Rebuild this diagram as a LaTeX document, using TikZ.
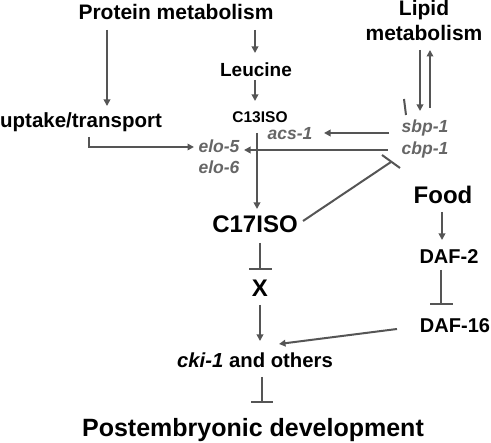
\documentclass[tikz,border=0pt]{standalone}
\usepackage{fontspec}
\setmainfont{Liberation Sans}
\usetikzlibrary{arrows.meta}
\definecolor{lnc}{HTML}{555555}
\definecolor{gene}{HTML}{666666}
\tikzset{
  lbl/.style={inner sep=0pt, anchor=base, font=\bfseries},
  gn/.style={lbl, text=gene, font=\bfseries\itshape\fontsize{17.5}{20}\selectfont},
  arr/.style={draw=lnc, line width=2pt, -{Triangle[length=6.5pt,width=6.5pt]}},
  inh/.style={draw=lnc, line width=2pt},
  ln/.style={draw=lnc, line width=2pt}
}
\begin{document}
\begin{tikzpicture}[x=1pt,y=-1pt]
\useasboundingbox (0,0) rectangle (491,443);
% nodes
\node[lbl, font=\bfseries\fontsize{21}{25}\selectfont] (prot) at (176,20) {Protein metabolism};
\node[lbl, anchor=north, align=center, font=\bfseries\fontsize{21}{25}\selectfont] (lipid) at (424,0) {Lipid\\metabolism};
\node[lbl, font=\bfseries\fontsize{19}{22}\selectfont] (leu) at (256,77) {Leucine};
\node[lbl, font=\bfseries\fontsize{20.5}{24}\selectfont] (upt) at (81,128) {uptake/transport};
\node[lbl, font=\bfseries\fontsize{15.5}{18}\selectfont] (c13) at (260,123) {C13ISO};
\node[gn] (acs) at (290,140) {acs-1};
\node[gn] (elo5) at (219,153) {elo-5};
\node[gn] (elo6) at (219,174) {elo-6};
\node[gn] (sbp) at (425,133) {sbp-1};
\node[gn] (cbp) at (425,155) {cbp-1};
\node[lbl, font=\bfseries\fontsize{24}{28}\selectfont] (c17) at (255,233) {C17ISO};
\node[lbl, font=\bfseries\fontsize{24}{28}\selectfont] (food) at (443,204) {Food};
\node[lbl, font=\bfseries\fontsize{20}{24}\selectfont] (daf2) at (449,264) {DAF-2};
\node[lbl, font=\bfseries\fontsize{20}{24}\selectfont] (daf16) at (455,333) {DAF-16};
\node[lbl, font=\bfseries\fontsize{24}{28}\selectfont] (x) at (260,297) {X};
\node[lbl, font=\bfseries\fontsize{20.3}{24}\selectfont] (cki) at (255,368) {\textit{cki-1} and others};
\node[lbl, font=\bfseries\fontsize{25}{30}\selectfont] (post) at (253,437) {Postembryonic development};
% connector end points
\coordinate (p1) at (107,30);  \coordinate (p2) at (107,106);
\coordinate (p3) at (255,30);  \coordinate (p4) at (255,53);
\coordinate (p5) at (255,80);  \coordinate (p6) at (255,101);
\coordinate (l1) at (420,50);  \coordinate (l2) at (420,111);
\coordinate (l3) at (430,108); \coordinate (l4) at (430,50);
\coordinate (s1) at (389,133); \coordinate (s2) at (324,133);
\coordinate (b1) at (388,150); \coordinate (b2) at (244,150);
\coordinate (u1) at (89,137);  \coordinate (u2) at (89,147); \coordinate (u3) at (194,147);
\coordinate (c1) at (257,133); \coordinate (c2) at (257,209);
\coordinate (k1) at (303,221); \coordinate (k2) at (391,162);
\coordinate (x1) at (260,243); \coordinate (x2) at (260,269);
\coordinate (x3) at (260,305); \coordinate (x4) at (260,341);
\coordinate (d1) at (397,329); \coordinate (d2) at (279,344);
\coordinate (f1) at (442,212); \coordinate (f2) at (442,240);
\coordinate (g1) at (441,270); \coordinate (g2) at (441,304);
\coordinate (q1) at (262,377); \coordinate (q2) at (262,402);
\coordinate (t1) at (404,99);  \coordinate (t2) at (406,115);
% connectors
\draw[arr] (p1) -- (p2);
\draw[arr] (p3) -- (p4);
\draw[arr] (p5) -- (p6);
\draw[arr] (l1) -- (l2);
\draw[arr] (l3) -- (l4);
\draw[arr] (s1) -- (s2);
\draw[arr] (b1) -- (b2);
\draw[arr] (u1) -- (u2) -- (u3);
\draw[arr] (c1) -- (c2);
\draw[inh] (k1) -- (k2);
\draw[inh] (382,155) -- (400,168);
\draw[inh] (x1) -- (x2);
\draw[inh] (249,269) -- (272,269);
\draw[arr] (x3) -- (x4);
\draw[arr] (d1) -- (d2);
\draw[arr] (f1) -- (f2);
\draw[inh] (g1) -- (g2);
\draw[inh] (430,304) -- (453,304);
\draw[inh] (q1) -- (q2);
\draw[inh] (251,402) -- (273,402);
\draw[ln] (t1) -- (t2);
\end{tikzpicture}
\end{document}
